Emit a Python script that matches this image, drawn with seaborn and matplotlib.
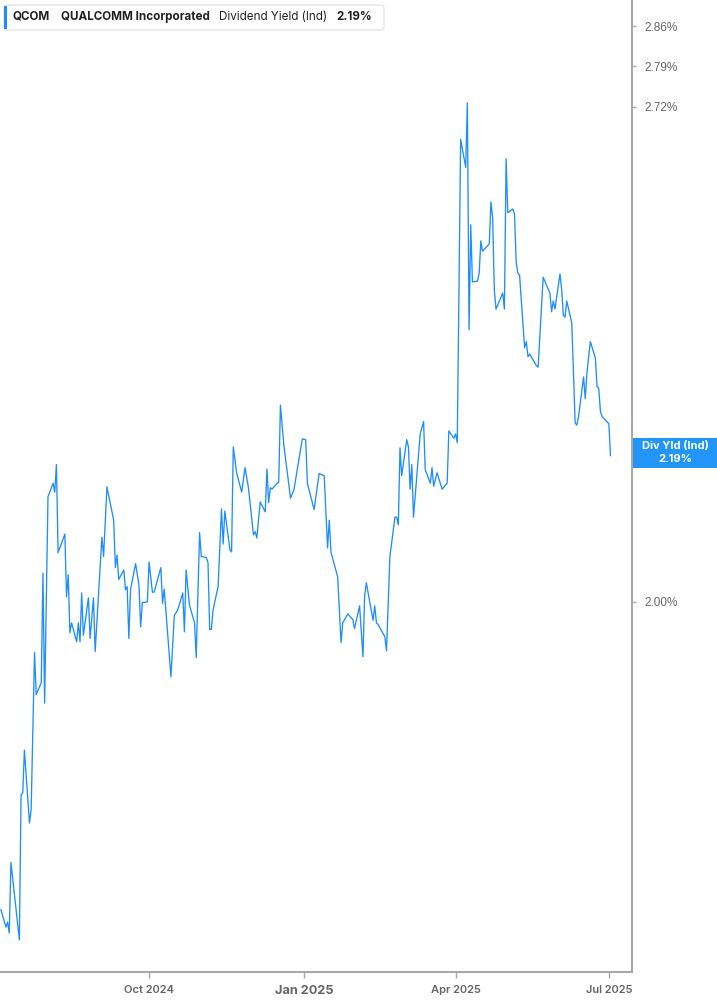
import pandas as pd
import seaborn as sns
import matplotlib.pyplot as plt
import matplotlib.dates as mdates
from matplotlib.patches import FancyBboxPatch, Rectangle
from matplotlib.ticker import FixedLocator, NullLocator

# QCOM dividend yield (indicated)
dates = [
    "2024-07-05", "2024-07-08", "2024-07-09", "2024-07-10", "2024-07-11", "2024-07-16",
    "2024-07-17", "2024-07-18", "2024-07-19", "2024-07-22", "2024-07-23", "2024-07-25",
    "2024-07-26", "2024-07-29", "2024-07-30", "2024-07-31", "2024-08-02", "2024-08-05",
    "2024-08-06", "2024-08-07", "2024-08-08", "2024-08-12", "2024-08-13", "2024-08-14",
    "2024-08-15", "2024-08-16", "2024-08-19", "2024-08-20", "2024-08-21", "2024-08-22",
    "2024-08-23", "2024-08-26", "2024-08-27", "2024-08-29", "2024-08-30", "2024-09-03",
    "2024-09-04", "2024-09-06", "2024-09-10", "2024-09-11", "2024-09-12", "2024-09-13",
    "2024-09-16", "2024-09-17", "2024-09-18", "2024-09-19", "2024-09-20", "2024-09-23",
    "2024-09-25", "2024-09-26", "2024-09-27", "2024-09-30", "2024-10-01", "2024-10-03",
    "2024-10-04", "2024-10-08", "2024-10-09", "2024-10-10", "2024-10-14", "2024-10-16",
    "2024-10-18", "2024-10-21", "2024-10-22", "2024-10-23", "2024-10-25", "2024-10-28",
    "2024-10-29", "2024-10-31", "2024-11-01", "2024-11-04", "2024-11-05", "2024-11-06",
    "2024-11-07", "2024-11-08", "2024-11-11", "2024-11-13", "2024-11-14", "2024-11-15",
    "2024-11-18", "2024-11-19", "2024-11-20", "2024-11-22", "2024-11-25", "2024-11-27",
    "2024-11-29", "2024-12-02", "2024-12-03", "2024-12-04", "2024-12-06", "2024-12-09",
    "2024-12-10", "2024-12-11", "2024-12-12", "2024-12-13", "2024-12-16", "2024-12-17",
    "2024-12-18", "2024-12-20", "2024-12-24", "2024-12-26", "2024-12-31", "2025-01-02",
    "2025-01-03", "2025-01-07", "2025-01-10", "2025-01-13", "2025-01-15", "2025-01-16",
    "2025-01-17", "2025-01-21", "2025-01-23", "2025-01-24", "2025-01-27", "2025-01-30",
    "2025-01-31", "2025-02-03", "2025-02-05", "2025-02-06", "2025-02-07", "2025-02-11",
    "2025-02-12", "2025-02-13", "2025-02-14", "2025-02-18", "2025-02-19", "2025-02-21",
    "2025-02-24", "2025-02-25", "2025-02-26", "2025-02-27", "2025-02-28", "2025-03-03",
    "2025-03-04", "2025-03-05", "2025-03-06", "2025-03-07", "2025-03-11", "2025-03-13",
    "2025-03-14", "2025-03-17", "2025-03-18", "2025-03-19", "2025-03-21", "2025-03-24",
    "2025-03-27", "2025-03-28", "2025-03-31", "2025-04-01", "2025-04-02", "2025-04-04",
    "2025-04-07", "2025-04-08", "2025-04-09", "2025-04-10", "2025-04-11", "2025-04-14",
    "2025-04-15", "2025-04-16", "2025-04-17", "2025-04-21", "2025-04-22", "2025-04-23",
    "2025-04-24", "2025-04-25", "2025-04-29", "2025-04-30", "2025-05-01", "2025-05-02",
    "2025-05-05", "2025-05-06", "2025-05-07", "2025-05-08", "2025-05-09", "2025-05-12",
    "2025-05-13", "2025-05-14", "2025-05-15", "2025-05-19", "2025-05-20", "2025-05-23",
    "2025-05-27", "2025-05-28", "2025-05-29", "2025-05-30", "2025-06-02", "2025-06-03",
    "2025-06-04", "2025-06-05", "2025-06-06", "2025-06-09", "2025-06-10", "2025-06-11",
    "2025-06-12", "2025-06-13", "2025-06-16", "2025-06-17", "2025-06-18", "2025-06-20",
    "2025-06-23", "2025-06-24", "2025-06-25", "2025-06-26", "2025-06-27", "2025-07-01",
    "2025-07-02",
]
div_yield = [
    1.652, 1.634, 1.639, 1.628, 1.701, 1.621,
    1.774, 1.776, 1.824, 1.743, 1.758, 1.938,
    1.888, 1.902, 2.036, 1.878, 2.135, 2.153,
    2.141, 2.178, 2.062, 2.086, 2.006, 2.034,
    1.962, 1.974, 1.951, 1.974, 1.951, 2.011,
    1.959, 2.005, 1.955, 2.005, 1.939, 2.082,
    2.057, 2.148, 2.104, 2.043, 2.059, 2.028,
    2.040, 2.015, 2.019, 1.955, 2.015, 2.048,
    2.021, 1.969, 1.999, 2.000, 2.050, 2.012,
    2.012, 2.043, 1.998, 2.016, 1.909, 1.983,
    1.990, 2.011, 1.963, 2.040, 1.996, 1.974,
    1.932, 2.088, 2.057, 2.056, 2.049, 1.966,
    1.966, 1.990, 2.019, 2.119, 2.073, 2.116,
    2.066, 2.063, 2.202, 2.167, 2.141, 2.174,
    2.147, 2.085, 2.089, 2.081, 2.128, 2.115,
    2.172, 2.127, 2.147, 2.145, 2.153, 2.154,
    2.260, 2.205, 2.133, 2.144, 2.213, 2.212,
    2.153, 2.118, 2.166, 2.163, 2.068, 2.104,
    2.063, 2.031, 1.950, 1.974, 1.985, 1.978,
    1.967, 1.995, 1.933, 2.007, 2.024, 1.977,
    1.995, 1.974, 1.972, 1.957, 1.940, 2.057,
    2.108, 2.108, 2.098, 2.201, 2.163, 2.212,
    2.202, 2.145, 2.178, 2.108, 2.220, 2.237,
    2.171, 2.153, 2.174, 2.149, 2.167, 2.145,
    2.153, 2.224, 2.214, 2.220, 2.208, 2.666,
    2.620, 2.727, 2.368, 2.528, 2.440, 2.441,
    2.453, 2.503, 2.487, 2.498, 2.564, 2.539,
    2.428, 2.399, 2.423, 2.399, 2.634, 2.547,
    2.553, 2.545, 2.469, 2.453, 2.450, 2.342,
    2.351, 2.329, 2.333, 2.316, 2.314, 2.447,
    2.423, 2.395, 2.411, 2.399, 2.452, 2.428,
    2.390, 2.387, 2.411, 2.378, 2.306, 2.235,
    2.232, 2.244, 2.300, 2.269, 2.306, 2.351,
    2.327, 2.286, 2.284, 2.251, 2.244, 2.234,
    2.190,
]

y_ticks = [2.00, 2.72, 2.79, 2.86]
x_ticks = ["2024-10-01", "2025-01-01", "2025-04-01", "2025-07-01"]
x_tick_labels = ["Oct 2024", "Jan 2025", "Apr 2025", "Jul 2025"]

df = pd.DataFrame({"date": pd.to_datetime(dates), "yield": div_yield})

sns.set_style("white")
plt.rcParams["font.family"] = ["Inter", "DejaVu Sans"]

LINE_BLUE = "#1f8efa"
AXIS_GREY = "#a8a8a8"
TEXT_GREY = "#666666"

W, H = 717, 1005
fig = plt.figure(figsize=(W / 100, H / 100), dpi=100)
ax = fig.add_axes([0, 1 - 972 / H, 632 / W, 972 / H])

sns.lineplot(data=df, x="date", y="yield", ax=ax, color=LINE_BLUE,
             linewidth=0.95, estimator=None)

ax.set_yscale("log")
ax.set_ylim(1.589, 2.907)
ax.set_xlim(pd.Timestamp("2024-07-04 12:00"), pd.Timestamp("2025-07-14 18:00"))

# right hand y axis
ax.yaxis.tick_right()
ax.yaxis.set_major_locator(FixedLocator(y_ticks))
ax.yaxis.set_minor_locator(NullLocator())
ax.set_yticklabels([f"{v:.2f}%" for v in y_ticks])
ax.tick_params(axis="y", which="major", right=True, length=3, width=1, color=AXIS_GREY,
               pad=6, labelsize=8.5, labelcolor=TEXT_GREY)
for lbl in ax.get_yticklabels():
    lbl.set_fontfamily("Liberation Sans")

ax.xaxis.set_major_locator(FixedLocator(mdates.date2num(pd.to_datetime(x_ticks))))
ax.xaxis.set_minor_locator(NullLocator())
ax.set_xticklabels(x_tick_labels)
ax.tick_params(axis="x", which="major", bottom=True, length=4, width=1, color=AXIS_GREY,
               pad=5, labelsize=8.0, labelcolor=TEXT_GREY)
for lbl in ax.get_xticklabels():
    lbl.set_fontweight("semibold")
    if lbl.get_text().startswith("Jan"):
        lbl.set_fontweight("bold")
        lbl.set_fontsize(9.2)

ax.set_xlabel("")
ax.set_ylabel("")
ax.grid(False)
for side in ["top", "left"]:
    ax.spines[side].set_visible(False)
for side in ["right", "bottom"]:
    ax.spines[side].set_color(AXIS_GREY)
    ax.spines[side].set_linewidth(1.5)

# legend header box, top left
fig.patches.append(FancyBboxPatch((4 / W, 1 - 30 / H), 380 / W, 25 / H,
                                  boxstyle="round,pad=0,rounding_size=0.004",
                                  transform=fig.transFigure, facecolor="white",
                                  edgecolor="#e6e6e6", linewidth=1, zorder=5))
fig.patches.append(Rectangle((4 / W, 1 - 29 / H), 3 / W, 23 / H, transform=fig.transFigure,
                             facecolor=LINE_BLUE, edgecolor="none", zorder=6))
header = [
    (13, "QCOM", "bold"),
    (61, "QUALCOMM Incorporated", "bold"),
    (219, "Dividend Yield (Ind)", "normal"),
    (336, "2.19%", "bold"),
]
for px, txt, weight in header:
    fig.text(px / W, 1 - 17 / H, txt, fontsize=8.4, fontweight=weight, color="#222222",
             va="center", ha="left", zorder=7)

# last value tag on the right axis
last_val = div_yield[-1]
fig.patches.append(Rectangle((633 / W, 1 - 468 / H), 84 / W, 30 / H, transform=fig.transFigure,
                             facecolor="#2196f8", edgecolor="none", zorder=5))
fig.text(675 / W, 1 - 446 / H, "Div Yld (Ind)", fontsize=8.0, fontweight="bold",
         color="white", ha="center", va="center", zorder=6)
fig.text(675 / W, 1 - 459 / H, f"{last_val:.2f}%", fontsize=8.0, fontweight="bold",
         color="white", ha="center", va="center", zorder=6)

fig.savefig("out.png", dpi=100)
